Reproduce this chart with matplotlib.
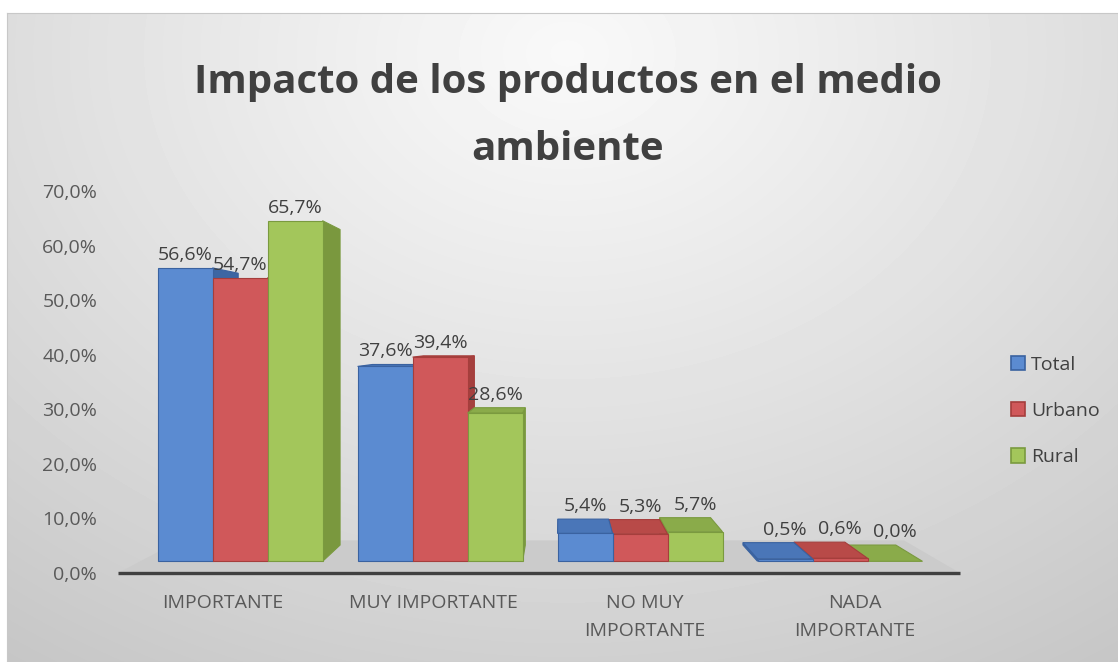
import numpy as np
import matplotlib
matplotlib.use('Agg')
import matplotlib.pyplot as plt
from matplotlib.patches import Polygon, Patch
from matplotlib.transforms import IdentityTransform

# datos
categorias = ['IMPORTANTE', 'MUY IMPORTANTE', 'NO MUY\nIMPORTANTE', 'NADA\nIMPORTANTE']
series = ['Total', 'Urbano', 'Rural']
total = [56.6, 37.6, 5.4, 0.5]
urbano = [54.7, 39.4, 5.3, 0.6]
rural = [65.7, 28.6, 5.7, 0.0]
y_ticks = [0, 10, 20, 30, 40, 50, 60, 70]

plt.rcParams['font.family'] = ['Open Sans', 'DejaVu Sans']

W, H = 1118, 662
fig = plt.figure(figsize=(W / 100, H / 100), dpi=100)
fig.patch.set_facecolor('white')

# fondo gris con degradado
bg = fig.add_axes([7 / W, 0, (W - 7) / W, (H - 13) / H])
yy, xx = np.mgrid[0:H - 13, 0:W - 7]
d = np.hypot(xx - 560, (yy - 40) * 1.3)
t = d / d.max()
g = 0.975 - 0.2 * t ** 1.1
bg.imshow(g, cmap='gray', vmin=0, vmax=1, aspect='auto', interpolation='bilinear')
bg.set_xticks([]); bg.set_yticks([])
for s in bg.spines.values():
    s.set_color('#c8c8c8')

ax = fig.add_axes([118 / W, 89 / H, 842 / W, 382 / H])
ax.set_xlim(-0.5, 3.5)
ax.set_ylim(0, 70)
ax.patch.set_alpha(0)
for s in ax.spines.values():
    s.set_visible(False)
ax.set_yticks(y_ticks)
ax.set_yticklabels([f'{v:.1f}%'.replace('.', ',') for v in y_ticks])
ax.tick_params(axis='y', length=0, pad=15, labelsize=14, labelcolor='#595959')
ax.set_xticks(range(len(categorias)))
ax.set_xticklabels(categorias)
ax.tick_params(axis='x', length=0, pad=15, labelsize=14, labelcolor='#595959')
for lb in ax.get_xticklabels():
    lb.set_linespacing(1.75)

# perspectiva falsa: punto de fuga en pixeles
VP = np.array([560.0, 322.0])
k_front, k_back, k_floor = 0.05, 0.12, 0.14
ident = IdentityTransform()


def proj(p, k):
    p = np.asarray(p, dtype=float)
    return p + k * (VP - p)


def poly(pts, fc, ec, z):
    ax.add_patch(Polygon(pts, closed=True, facecolor=fc, edgecolor=ec, lw=0.8,
                         transform=ident, clip_on=False, zorder=z))


# suelo
f0 = ax.transData.transform((-0.5, 0))
f1 = ax.transData.transform((3.5, 0))
poly([f0, f1, proj(f1, k_floor), proj(f0, k_floor)], '#cbcbcb', 'none', 1)
ax.plot([-0.5, 3.5], [0, 0], color='#404040', lw=2.4, clip_on=False, zorder=2,
        solid_capstyle='butt')

frente = ['#5b8bd1', '#d0585a', '#a3c65b']
lado = ['#3d66a3', '#a5403e', '#7a983e']
tapa = ['#4a76b8', '#b84a48', '#8aab4a']
borde = ['#3a62a0', '#a53e3c', '#7a9a3f']

valores = [total, urbano, rural]
w = 0.275
barras = []
for c in range(len(categorias)):
    for s in range(len(series)):
        x0 = c - 1.5 * w + s * w
        barras.append((x0, x0 + w, valores[s][c], s))

# pintar de lejos a cerca del punto de fuga
def dist(b):
    xm = ax.transData.transform(((b[0] + b[1]) / 2, 0))[0]
    return -abs(xm - VP[0])


for x0, x1, v, s in sorted(barras, key=dist):
    bl = ax.transData.transform((x0, 0))
    br = ax.transData.transform((x1, 0))
    tr = ax.transData.transform((x1, v))
    tl = ax.transData.transform((x0, v))
    F = [proj(p, k_front) for p in (bl, br, tr, tl)]
    B = [proj(p, k_back) for p in (bl, br, tr, tl)]
    z = 3
    if F[1][0] < VP[0]:
        poly([F[1], F[2], B[2], B[1]], lado[s], borde[s], z)
    if F[0][0] > VP[0]:
        poly([F[0], F[3], B[3], B[0]], lado[s], borde[s], z)
    if F[3][1] < VP[1]:
        poly([F[3], F[2], B[2], B[3]], tapa[s], borde[s], z)
    if v > 0:
        poly(F, frente[s], borde[s], z)
    ytop = max(F[2][1], B[2][1])
    ax.text((F[2][0] + F[3][0]) / 2, ytop + 4, f'{v:.1f}%'.replace('.', ','),
            transform=ident, ha='center', va='bottom', fontsize=14,
            color='#404040', zorder=10)

handles = [Patch(facecolor=frente[i], edgecolor=borde[i], lw=1.2) for i in range(3)]
fig.legend(handles, series, loc='center left', bbox_to_anchor=(993 / W, (H - 411) / H),
           frameon=False, fontsize=14, handlelength=0.75, handleheight=0.75,
           handletextpad=0.3, labelspacing=1.45, labelcolor='#404040')

fig.text(568 / W, (H - 116) / H, 'Impacto de los productos en el medio\nambiente',
         ha='center', va='center', fontsize=29, fontweight='bold', color='#404040',
         linespacing=1.95)

fig.savefig('out.png', dpi=100)
